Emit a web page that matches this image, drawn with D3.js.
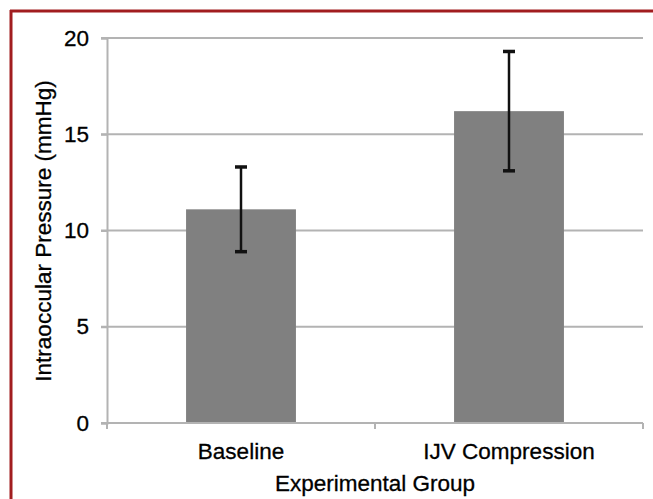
<!DOCTYPE html>
<html>
<head>
<meta charset="utf-8">
<script src="https://cdn.jsdelivr.net/npm/d3@7"></script>
<style>
  body { margin: 0; background: #fff; }
  svg { display: block; font-family: "Liberation Sans", Arial, sans-serif; }
  svg text { stroke: #000; stroke-width: 0.3px; }
</style>
</head>
<body>
<div id="chart"></div>
<script>
// Data
var groups = ["Baseline", "IJV Compression"];
var means = [11.1, 16.2];
var errors = [2.2, 3.1];
var yTicks = [0, 5, 10, 15, 20];

var width = 653, height = 499;
var margin = { top: 38, right: 10, bottom: 76, left: 107 };
var fontSize = "22.5px";

var svg = d3.select("#chart")
    .append("svg")
    .attr("width", width)
    .attr("height", height);

// Dark red frame (top and left edges only, as cropped)
svg.append("line")
    .attr("x1", 10).attr("y1", 11).attr("x2", width).attr("y2", 11)
    .attr("stroke", "#a11d1f").attr("stroke-width", 3);
svg.append("line")
    .attr("x1", 11).attr("y1", 10).attr("x2", 11).attr("y2", height)
    .attr("stroke", "#a11d1f").attr("stroke-width", 3);

var plotW = 643 - margin.left;
var plotH = 423 - margin.top;

var g = svg.append("g")
    .attr("transform", "translate(" + margin.left + "," + margin.top + ")");

var x = d3.scaleBand()
    .domain(groups)
    .range([0, plotW])
    .paddingInner(0.59)
    .paddingOuter(0.295);

var xOuter = d3.scaleBand().domain(groups).range([0, plotW]);

var y = d3.scaleLinear()
    .domain([0, 20])
    .range([plotH, 0]);

// Gridlines
g.selectAll(".grid")
    .data(yTicks.filter(function (d) { return d > 0; }))
    .enter()
    .append("line")
    .attr("x1", -6)
    .attr("x2", plotW)
    .attr("y1", function (d) { return y(d); })
    .attr("y2", function (d) { return y(d); })
    .attr("stroke", "#b3b3b3")
    .attr("stroke-width", 2);

// Bars
g.selectAll(".bar")
    .data(groups)
    .enter()
    .append("rect")
    .attr("x", function (d) { return x(d); })
    .attr("width", x.bandwidth())
    .attr("y", function (d, i) { return y(means[i]); })
    .attr("height", function (d, i) { return plotH - y(means[i]); })
    .attr("fill", "#808080");

// Y axis
var yAxis = g.append("g")
    .call(d3.axisLeft(y).tickValues(yTicks).tickSize(6).tickPadding(12));
yAxis.select(".domain").attr("stroke", "#b3b3b3").attr("stroke-width", 2);
yAxis.selectAll(".tick line").attr("stroke", "#b3b3b3").attr("stroke-width", 2);
yAxis.selectAll("text")
    .attr("fill", "#000")
    .style("font-size", fontSize);

// X axis with boundary ticks
var xAxis = g.append("g")
    .attr("transform", "translate(0," + plotH + ")")
    .call(d3.axisBottom(x).tickSize(0).tickPadding(20));
xAxis.select(".domain").remove();
xAxis.selectAll("text")
    .attr("fill", "#000")
    .style("font-size", fontSize);

xAxis.append("line")
    .attr("x1", -6).attr("x2", plotW)
    .attr("stroke", "#b3b3b3").attr("stroke-width", 2);

xAxis.selectAll(".bound")
    .data([0, xOuter(groups[1]), plotW])
    .enter()
    .append("line")
    .attr("x1", function (d) { return d; })
    .attr("x2", function (d) { return d; })
    .attr("y1", 0).attr("y2", 6)
    .attr("stroke", "#b3b3b3").attr("stroke-width", 2);

// Error bars
var eb = g.selectAll(".err")
    .data(groups)
    .enter()
    .append("g");

eb.append("line")
    .attr("x1", function (d) { return x(d) + x.bandwidth() / 2; })
    .attr("x2", function (d) { return x(d) + x.bandwidth() / 2; })
    .attr("y1", function (d, i) { return y(means[i] + errors[i]); })
    .attr("y2", function (d, i) { return y(means[i] - errors[i]); })
    .attr("stroke", "#111").attr("stroke-width", 2.5);

[1, -1].forEach(function (s) {
    eb.append("line")
        .attr("x1", function (d) { return x(d) + x.bandwidth() / 2 - 6; })
        .attr("x2", function (d) { return x(d) + x.bandwidth() / 2 + 6; })
        .attr("y1", function (d, i) { return y(means[i] + s * errors[i]); })
        .attr("y2", function (d, i) { return y(means[i] + s * errors[i]); })
        .attr("stroke", "#111").attr("stroke-width", 3.5);
});

// Axis titles
svg.append("text")
    .attr("transform", "translate(43,231) rotate(-90)")
    .attr("text-anchor", "middle")
    .attr("dominant-baseline", "central")
    .attr("fill", "#000")
    .style("font-size", fontSize)
    .text("Intraoccular Pressure (mmHg)");

svg.append("text")
    .attr("x", margin.left + plotW / 2)
    .attr("y", 491)
    .attr("text-anchor", "middle")
    .attr("fill", "#000")
    .style("font-size", fontSize)
    .text("Experimental Group");
</script>
</body>
</html>
